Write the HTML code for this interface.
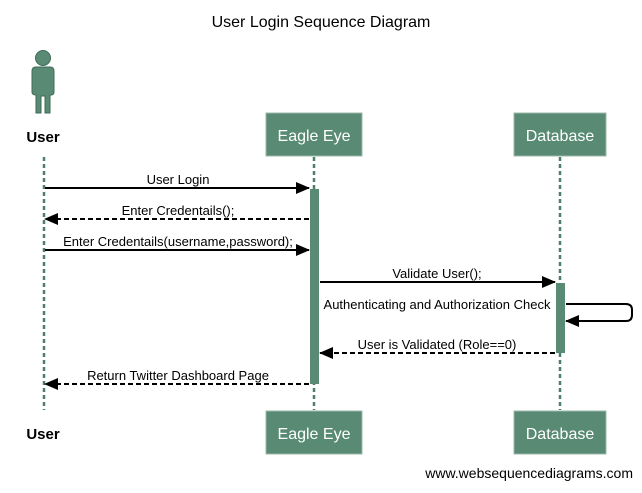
<!DOCTYPE html>
<html><head><style>
body{margin:0;background:#fff;width:642px;height:488px;overflow:hidden}
svg text{font-family:"Liberation Sans","DejaVu Sans",sans-serif}
</style></head><body>
<svg width="642" height="488" viewBox="0 0 642 488" xmlns="http://www.w3.org/2000/svg">
<defs>
<marker id="a" markerWidth="14" markerHeight="12" refX="13" refY="6" orient="auto" markerUnits="userSpaceOnUse"><path d="M0,0 L14,6 L0,12 z" fill="#000"/></marker>
</defs>
<text x="321" y="27" font-size="16" text-anchor="middle" fill="#000">User Login Sequence Diagram</text>
<g fill="#588a74" stroke="#3e6b57" stroke-width="1">
<circle cx="43" cy="58" r="7.5"/>
<path d="M32,71 Q32,67 36,67 L50,67 Q54,67 54,71 L54,92 Q54,95 51,95 L50,95 L50,113 L45,113 L45,96 L41,96 L41,113 L36,113 L36,95 Q32,95 32,92 z"/>
</g>
<text x="43" y="142" font-size="15" font-weight="bold" text-anchor="middle">User</text>
<text x="43" y="439" font-size="15" font-weight="bold" text-anchor="middle">User</text>
<g stroke="#4e7f6b" stroke-width="2.5" stroke-dasharray="4,3">
<line x1="44" y1="157" x2="44" y2="410"/>
<line x1="314" y1="157" x2="314" y2="410"/>
<line x1="560" y1="157" x2="560" y2="410"/>
</g>
<g fill="#588a74" stroke="#9bb8aa" stroke-width="1">
<rect x="266" y="113" width="96" height="43"/>
<rect x="514" y="113" width="92" height="43"/>
<rect x="266" y="411" width="96" height="43"/>
<rect x="514" y="411" width="92" height="43"/>
</g>
<g fill="#fff" font-size="16" text-anchor="middle">
<text x="314" y="141">Eagle Eye</text>
<text x="560" y="141">Database</text>
<text x="314" y="439">Eagle Eye</text>
<text x="560" y="439">Database</text>
</g>
<rect x="310" y="189" width="9" height="195" fill="#588a74"/>
<rect x="556" y="283" width="9" height="70" fill="#588a74"/>
<g stroke="#000" stroke-width="2" fill="none">
<line x1="45" y1="188" x2="309" y2="188" marker-end="url(#a)"/>
<line x1="309" y1="219" x2="45" y2="219" stroke-dasharray="5,3" marker-end="url(#a)"/>
<line x1="45" y1="250" x2="309" y2="250" marker-end="url(#a)"/>
<line x1="320" y1="282" x2="555" y2="282" marker-end="url(#a)"/>
<path d="M566,304 L626,304 Q632,304 632,310 L632,315 Q632,321 626,321 L566,321" marker-end="url(#a)"/>
<line x1="555" y1="353" x2="320" y2="353" stroke-dasharray="5,3" marker-end="url(#a)"/>
<line x1="309" y1="384" x2="45" y2="384" stroke-dasharray="5,3" marker-end="url(#a)"/>
</g>
<g font-size="13" text-anchor="middle" fill="#000">
<text x="178" y="184">User Login</text>
<text x="178" y="215">Enter Credentails();</text>
<text x="178" y="246">Enter Credentails(username,password);</text>
<text x="437" y="278">Validate User();</text>
<text x="437" y="309">Authenticating and Authorization Check</text>
<text x="437" y="349">User is Validated (Role==0)</text>
<text x="178" y="380">Return Twitter Dashboard Page</text>
</g>
<text x="633" y="478" font-size="14" text-anchor="end">www.websequencediagrams.com</text>
</svg>
</body></html>
